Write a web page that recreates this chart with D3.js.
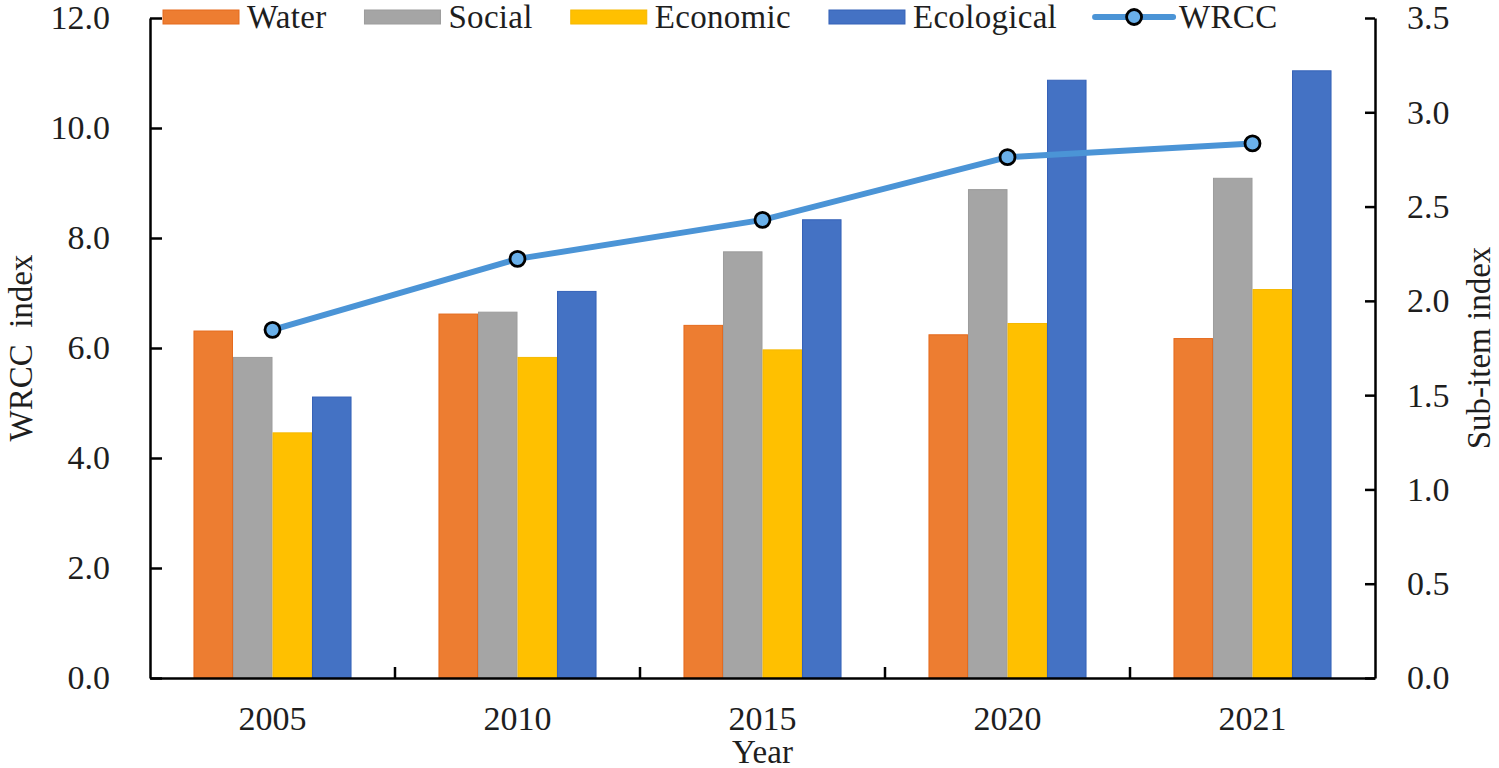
<!DOCTYPE html>
<html lang="en">
<head>
<meta charset="UTF-8">
<title>WRCC index</title>
<style>
  * { box-sizing: border-box; }
  body { margin: 0; background: #fff; overflow: hidden; }
  svg text { font-family: 'Liberation Serif', 'Times New Roman', serif; fill: #1e1e1e; }
  .axis path, .axis line { stroke: #000; stroke-width: 2.5; }
</style>
</head>
<body>
<div id="chart"></div>
<script src="https://cdn.jsdelivr.net/npm/d3@7/dist/d3.min.js"></script>
<script>
// values
var years      = ["2005", "2010", "2015", "2020", "2021"];
var water      = [1.84, 1.93, 1.87, 1.82, 1.80];
var social     = [1.70, 1.94, 2.26, 2.59, 2.65];
var economic   = [1.30, 1.70, 1.74, 1.88, 2.06];
var ecological = [1.49, 2.05, 2.43, 3.17, 3.22];
var wrcc       = [6.33, 7.62, 8.33, 9.47, 9.72];

var seriesNames  = ["Water", "Social", "Economic", "Ecological"];
var seriesValues = [water, social, economic, ecological];
var leftTicks  = [0, 2, 4, 6, 8, 10, 12];
var rightTicks = [0, 0.5, 1, 1.5, 2, 2.5, 3, 3.5];

var fills   = ["#ED7D31", "#A5A5A5", "#FFC000", "#4472C4"];
var strokes = ["#E56A1C", "#9C9C9C", "#F5B800", "#3562B8"];
var lineColor = "#4B94D6";

var W = 1499, H = 768;
var plotLeft = 150, plotRight = 1375, plotTop = 18, plotBottom = 678;

var svg = d3.select("#chart").append("svg").attr("width", W).attr("height", H);

var x0 = d3.scaleBand().domain(years).range([plotLeft, plotRight]).padding(0);
var x1 = d3.scaleBand().domain(seriesNames).range([0, x0.bandwidth()])
    .paddingInner(0).paddingOuter(1.1);
var yL = d3.scaleLinear().domain([0, 12]).range([plotBottom, plotTop]);
var yR = d3.scaleLinear().domain([0, 3.5]).range([plotBottom, plotTop]);

// bars (sub-items, right axis)
seriesNames.forEach(function (name, si) {
  svg.append("g").selectAll("rect")
    .data(seriesValues[si])
    .join("rect")
    .attr("x", function (d, i) { return x0(years[i]) + x1(name) + 0.5; })
    .attr("y", function (d) { return yR(d); })
    .attr("width", x1.bandwidth() - 1)
    .attr("height", function (d) { return yR(0) - yR(d); })
    .attr("fill", fills[si])
    .attr("stroke", strokes[si])
    .attr("stroke-width", 1);
});

// axes
var gL = svg.append("g").attr("class", "axis")
  .attr("transform", "translate(" + plotLeft + ",0)")
  .call(d3.axisLeft(yL).tickValues(leftTicks).tickFormat(d3.format(".1f"))
    .tickSizeInner(-12).tickSizeOuter(0).tickPadding(40));

var gR = svg.append("g").attr("class", "axis")
  .attr("transform", "translate(" + plotRight + ",0)")
  .call(d3.axisRight(yR).tickValues(rightTicks).tickFormat(d3.format(".1f"))
    .tickSizeInner(-10).tickSizeOuter(0).tickPadding(32));

var gX = svg.append("g").attr("class", "axis")
  .attr("transform", "translate(0," + plotBottom + ")")
  .call(d3.axisBottom(x0).tickSize(0).tickPadding(28));
gX.selectAll(".tick line").remove();

// boundary ticks between year groups
svg.append("g").selectAll("line")
  .data(years.slice(1))
  .join("line")
  .attr("x1", function (d) { return x0(d); })
  .attr("x2", function (d) { return x0(d); })
  .attr("y1", plotBottom)
  .attr("y2", plotBottom - 11)
  .attr("stroke", "#000")
  .attr("stroke-width", 2.5);

svg.selectAll(".axis text")
  .style("font-size", "34px");

// WRCC line (left axis), drawn over the bars
var line = d3.line()
  .x(function (d, i) { return x0(years[i]) + x0.bandwidth() / 2; })
  .y(function (d) { return yL(d); });

svg.append("path").datum(wrcc)
  .attr("d", line)
  .attr("fill", "none")
  .attr("stroke", lineColor)
  .attr("stroke-width", 6)
  .attr("stroke-linejoin", "round");

svg.append("g").selectAll("circle")
  .data(wrcc)
  .join("circle")
  .attr("cx", function (d, i) { return x0(years[i]) + x0.bandwidth() / 2; })
  .attr("cy", function (d) { return yL(d); })
  .attr("r", 7.5)
  .attr("fill", "#6AB0EA")
  .attr("stroke", "#000")
  .attr("stroke-width", 2.8);

// axis titles
svg.append("text")
  .attr("transform", "translate(32," + ((plotTop + plotBottom) / 2) + ") rotate(-90)")
  .attr("text-anchor", "middle")
  .style("font-size", "33px")
  .style("white-space", "pre")
  .text("WRCC  index");

svg.append("text")
  .attr("transform", "translate(1490," + ((plotTop + plotBottom) / 2) + ") rotate(-90)")
  .attr("text-anchor", "middle")
  .style("font-size", "33px")
  .text("Sub-item index");

svg.append("text")
  .attr("x", (plotLeft + plotRight) / 2)
  .attr("y", 763)
  .attr("text-anchor", "middle")
  .style("font-size", "33px")
  .text("Year");

// legend
var legend = svg.append("g").attr("transform", "translate(163,0)");
var lx = 0;
var legendItems = seriesNames.concat(["WRCC"]);
legendItems.forEach(function (name, i) {
  var g = legend.append("g").attr("transform", "translate(" + lx + ",0)");
  if (i < 4) {
    g.append("rect")
      .attr("x", 0).attr("y", 10).attr("width", 76).attr("height", 14)
      .attr("fill", fills[i]).attr("stroke", strokes[i]).attr("stroke-width", 1);
  } else {
    g.append("line")
      .attr("x1", 0).attr("x2", 78).attr("y1", 17).attr("y2", 17)
      .attr("stroke", lineColor).attr("stroke-width", 6).attr("stroke-linecap", "round");
    g.append("circle")
      .attr("cx", 39).attr("cy", 17).attr("r", 7.5)
      .attr("fill", "#6AB0EA").attr("stroke", "#000").attr("stroke-width", 2.8);
  }
  var t = g.append("text")
    .attr("x", 84)
    .attr("y", 28)
    .style("font-size", "33px")
    .style("letter-spacing", "0.3px")
    .text(name);
  lx += 84 + t.node().getComputedTextLength() + 38;
});
</script>
</body>
</html>
